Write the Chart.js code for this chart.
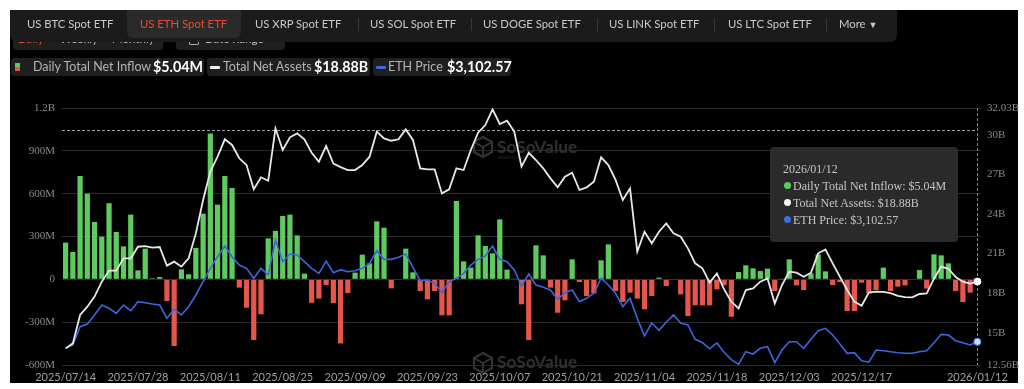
<!DOCTYPE html>
<html><head><meta charset="utf-8">
<script src="https://cdn.jsdelivr.net/npm/chart.js@4.4.1/dist/chart.umd.min.js"></script>
<style>
html,body{margin:0;padding:0;background:#fff;width:1024px;height:389px;overflow:hidden;font-family:Lato,"Noto Sans",sans-serif;}
.abs{position:absolute;white-space:nowrap;}
#panel{left:10px;top:10px;width:1008px;height:373px;background:#000;}
.btnbox{background:#1f1f1f;border-radius:4px;height:22px;top:28px;}
.btxt{top:28px;line-height:22px;font-size:11.5px;color:#bdbdbd;}
#tabbar{left:10px;top:10px;width:887px;height:32px;background:#1b1b1b;border-radius:0 0 7px 7px;}
#tabact{left:127px;top:10px;width:114px;height:28px;background:#2a2a2a;border-radius:0 0 6px 6px;}
.tab{top:10px;line-height:28px;font-size:11.3px;color:#c9c9c9;}
.sep{top:18px;width:1px;height:13px;background:#383838;}
.lgbox{top:58px;height:18px;background:#1f1f1f;border-radius:3px;}
.lgl{top:58px;line-height:18px;font-size:12.5px;color:#b4b4b4;}
.lgv{top:57px;line-height:20px;font-size:14.3px;color:#fff;font-weight:bold;}
.wm{font-size:17px;font-weight:bold;color:#303030;letter-spacing:0.2px;}
.wms{font-size:5px;color:#2a2a2a;}
#tip{left:770px;top:147px;width:188px;height:95px;background:rgba(44,44,44,0.96);border-radius:4px;font-family:"Liberation Serif",serif;font-size:12px;color:#c6c6c6;}
.tl{position:absolute;left:23px;line-height:14px;white-space:nowrap;}
.dot{position:absolute;left:14px;width:7px;height:7px;border-radius:50%;}
canvas{position:absolute;left:0;top:0;}
</style></head><body>
<div id="panel" class="abs"></div>

<!-- watermarks -->
<svg class="abs" style="left:472px;top:136px" width="22" height="22" viewBox="0 0 22 22"><polygon points="11,1 20,6 20,16 11,21 2,16 2,6" fill="none" stroke="#333" stroke-width="2.2"/><polyline points="2,6 11,11 20,6" fill="none" stroke="#333" stroke-width="2"/><line x1="11" y1="11" x2="11" y2="21" stroke="#333" stroke-width="2"/></svg>
<div class="abs wm" style="left:497px;top:136px;">SoSoValue</div>
<div class="abs wms" style="left:498px;top:154px;">sosovalue.com</div>
<svg class="abs" style="left:472px;top:352px" width="22" height="22" viewBox="0 0 22 22"><polygon points="11,1 20,6 20,16 11,21 2,16 2,6" fill="none" stroke="#333" stroke-width="2.2"/><polyline points="2,6 11,11 20,6" fill="none" stroke="#333" stroke-width="2"/><line x1="11" y1="11" x2="11" y2="21" stroke="#333" stroke-width="2"/></svg>
<div class="abs wm" style="left:497px;top:351px;">SoSoValue</div>

<canvas id="c" width="1024" height="389"></canvas>

<!-- half hidden second row -->
<div class="abs btnbox" style="left:13px;width:150px;"></div>
<div class="abs btxt" style="left:18px;color:#e8472f;">Daily</div>
<div class="abs btxt" style="left:60px;">Weekly</div>
<div class="abs btxt" style="left:112px;">Monthly</div>
<div class="abs btnbox" style="left:176px;width:109px;"></div>
<div class="abs" style="left:189px;top:34px;width:8px;height:9px;border:1px solid #aaa;border-radius:1px;"></div>
<div class="abs btxt" style="left:205px;">Date Range</div>

<!-- tab bar -->
<div id="tabbar" class="abs"></div>
<div id="tabact" class="abs"></div>
<div class="abs tab" style="left:27px;">US BTC Spot ETF</div>
<div class="abs tab" style="left:140px;color:#ea4a33;">US ETH Spot ETF</div>
<div class="abs tab" style="left:255px;">US XRP Spot ETF</div>
<div class="abs sep" style="left:358px;"></div>
<div class="abs tab" style="left:370px;">US SOL Spot ETF</div>
<div class="abs sep" style="left:471px;"></div>
<div class="abs tab" style="left:483px;">US DOGE Spot ETF</div>
<div class="abs sep" style="left:597px;"></div>
<div class="abs tab" style="left:609px;">US LINK Spot ETF</div>
<div class="abs sep" style="left:714px;"></div>
<div class="abs tab" style="left:728px;">US LTC Spot ETF</div>
<div class="abs sep" style="left:826px;"></div>
<div class="abs tab" style="left:839px;">More <span style="font-size:9px;">&#9660;</span></div>

<!-- legend -->
<div class="abs lgbox" style="left:11px;width:193px;"></div>
<div class="abs" style="left:15px;top:63px;width:5px;height:8px;background:linear-gradient(#5ec95f 50%,#e6574b 50%);"></div>
<div class="abs lgl" style="left:33px;">Daily Total Net Inflow</div>
<div class="abs lgv" style="left:153px;">$5.04M</div>
<div class="abs lgbox" style="left:207px;width:163px;"></div>
<div class="abs" style="left:210px;top:66px;width:10px;height:3px;background:#eee;border-radius:1px;"></div>
<div class="abs lgl" style="left:223px;">Total Net Assets</div>
<div class="abs lgv" style="left:314px;">$18.88B</div>
<div class="abs lgbox" style="left:373px;width:138px;"></div>
<div class="abs" style="left:376px;top:66px;width:10px;height:3px;background:#3f6be0;border-radius:1px;"></div>
<div class="abs lgl" style="left:388px;">ETH Price</div>
<div class="abs lgv" style="left:447px;">$3,102.57</div>

<!-- tooltip -->
<div id="tip" class="abs">
  <div class="tl" style="left:13px;top:15px;">2026/01/12</div>
  <div class="dot" style="top:35px;background:#5ec95f;"></div><div class="tl" style="top:32px;">Daily Total Net Inflow: $5.04M</div>
  <div class="dot" style="top:52px;background:#f2f2f2;"></div><div class="tl" style="top:49px;">Total Net Assets: $18.88B</div>
  <div class="dot" style="top:69px;background:#3f6be0;"></div><div class="tl" style="top:66px;">ETH Price: $3,102.57</div>
</div>

<script>
const dates = [
"2025/07/14","2025/07/15","2025/07/16","2025/07/17","2025/07/18","2025/07/21","2025/07/22","2025/07/23","2025/07/24","2025/07/25",
"2025/07/28","2025/07/29","2025/07/30","2025/07/31","2025/08/01","2025/08/04","2025/08/05","2025/08/06","2025/08/07","2025/08/08",
"2025/08/11","2025/08/12","2025/08/13","2025/08/14","2025/08/15","2025/08/18","2025/08/19","2025/08/20","2025/08/21","2025/08/22",
"2025/08/25","2025/08/26","2025/08/27","2025/08/28","2025/08/29","2025/09/02","2025/09/03","2025/09/04","2025/09/05","2025/09/08",
"2025/09/09","2025/09/10","2025/09/11","2025/09/12","2025/09/15","2025/09/16","2025/09/17","2025/09/18","2025/09/19","2025/09/22",
"2025/09/23","2025/09/24","2025/09/25","2025/09/26","2025/09/29","2025/09/30","2025/10/01","2025/10/02","2025/10/03","2025/10/06",
"2025/10/07","2025/10/08","2025/10/09","2025/10/10","2025/10/13","2025/10/14","2025/10/15","2025/10/16","2025/10/17","2025/10/20",
"2025/10/21","2025/10/22","2025/10/23","2025/10/24","2025/10/27","2025/10/28","2025/10/29","2025/10/30","2025/10/31","2025/11/03",
"2025/11/04","2025/11/05","2025/11/06","2025/11/07","2025/11/10","2025/11/11","2025/11/12","2025/11/13","2025/11/14","2025/11/17",
"2025/11/18","2025/11/19","2025/11/20","2025/11/21","2025/11/24","2025/11/25","2025/11/26","2025/11/28","2025/12/01","2025/12/02",
"2025/12/03","2025/12/04","2025/12/05","2025/12/08","2025/12/09","2025/12/10","2025/12/11","2025/12/12","2025/12/15","2025/12/16",
"2025/12/17","2025/12/18","2025/12/19","2025/12/22","2025/12/23","2025/12/24","2025/12/26","2025/12/29","2025/12/30","2025/12/31",
"2026/01/02","2026/01/05","2026/01/06","2026/01/07","2026/01/08","2026/01/09","2026/01/12"];

// Daily total net inflow, in millions of USD
const netInflowM = [
257,192,724,600,402,299,533,332,231,453,
63,215,7,16,-152,-467,70,35,220,460,
1021,523,724,640,-58,-199,-425,-245,287,339,
444,453,308,40,-164,-135,-40,-166,-449,-96,
47,173,112,406,362,-63,-3,215,49,-82,
-140,-82,-252,-252,549,126,82,308,234,182,
420,68,2,-175,-425,238,168,-58,-234,-147,
140,-19,-117,-98,133,245,-82,-158,-93,-135,
-210,-117,12,-47,-2,-105,-257,-182,-182,-182,
-70,-42,-262,51,98,77,58,75,-82,1,
140,-42,-75,42,175,56,-40,-19,-222,-222,
-23,-98,-75,82,-82,-51,-42,-3,65,-65,
175,168,112,-82,-159,-93,5.04];

// Total net assets, in billions of USD
const totalAssetsB = [
13.82,14.20,16.35,16.98,17.74,18.87,19.71,19.71,20.64,20.64,
21.52,21.57,21.45,21.50,20.09,20.39,20.01,20.64,22.53,25.06,
27.21,28.34,29.66,29.23,28.22,27.71,25.87,26.78,26.52,30.49,
28.85,29.81,30.11,29.66,28.64,27.96,29.15,27.82,27.55,27.33,
27.33,27.71,28.34,30.24,29.73,29.55,29.66,30.41,29.61,27.46,
27.38,27.38,25.56,25.87,27.46,27.33,28.85,30.16,30.74,31.93,
30.82,31.07,30.24,27.59,28.64,28.09,27.46,26.70,26.02,26.83,
27.13,25.82,26.02,26.45,28.29,27.71,26.58,25.06,25.94,21.15,
22.66,21.78,22.66,23.29,22.53,22.28,21.40,20.26,19.88,18.80,
19.50,18.29,17.36,16.85,18.24,18.37,18.87,19.12,17.23,18.62,
19.63,19.55,19.25,19.55,21.02,21.32,20.26,19.25,18.24,17.36,
17.05,18.04,18.12,18.10,18.00,17.80,17.70,17.69,17.94,17.99,
19.10,20.01,19.85,19.22,18.87,18.72,18.88];

// ETH price, USD
const ethPrice = [
2987,3046,3372,3420,3580,3758,3699,3610,3758,3657,
3817,3799,3776,3758,3521,3681,3580,3728,3936,4173,
4411,4618,4808,4618,4470,4411,4233,4411,4292,4915,
4529,4666,4648,4529,4411,4322,4541,4333,4387,4351,
4369,4411,4500,4725,4571,4571,4607,4666,4429,4191,
4203,4144,3977,4173,4233,4322,4470,4571,4630,4808,
4571,4529,4381,4096,4310,4114,4073,4025,3859,3977,
4025,3817,3877,3966,4233,4114,3966,3730,3880,3520,
3206,3437,3307,3452,3580,3437,3402,3147,3090,2978,
3082,2918,2785,2702,2927,2886,2987,3016,2731,2957,
3105,3105,2987,3147,3301,3343,3224,3064,2898,2909,
2767,2740,2957,2945,2927,2909,2898,2898,2927,2945,
3087,3236,3224,3123,3087,3046,3102.57];

const leftTicksM = [-600,-300,0,300,600,900,1200];
const rightTicksB = [12.56,15,18,21,24,27,30,32.03];
const refLineB = 30.4;       // dashed reference level (right axis)
const hoverIndex = dates.length - 1;
const labelEvery = 10;

const GREEN = '#5fca60', RED = '#e6574b', WHITE = '#e9e9e9', BLUE = '#3d66dc';

const fmtM = v => v === 0 ? '0' : (Math.abs(v) >= 1000 ? (v/1000) + 'B' : v + 'M');
const lastOnly = (r) => dates.map((d,i) => i === hoverIndex ? r : 0);
const showLabel = i => i === dates.length - 1 || (i % labelEvery === 0 && i <= dates.length - 1 - labelEvery);

const guides = {
  id: 'guides',
  beforeDatasetsDraw(chart) {
    const {ctx, chartArea: a, scales} = chart;
    ctx.save();
    ctx.lineWidth = 1;
    ctx.setLineDash([3, 2]);
    const y = Math.round(scales.yR.getPixelForValue(refLineB)) + 0.5;
    ctx.strokeStyle = '#a0a0a0';
    ctx.beginPath(); ctx.moveTo(a.left, y); ctx.lineTo(a.right - 5, y); ctx.stroke();
    const x = Math.round(scales.x.getPixelForValue(hoverIndex)) + 0.5;
    ctx.strokeStyle = '#8c8c8c';
    ctx.beginPath(); ctx.moveTo(x, a.top); ctx.lineTo(x, a.bottom); ctx.stroke();
    ctx.restore();
  }
};

new Chart(document.getElementById('c'), {
  type: 'bar',
  data: {
    labels: dates,
    datasets: [
      { type: 'line', label: 'Total Net Assets', data: totalAssetsB, yAxisID: 'yR', order: 1,
        borderColor: WHITE, borderWidth: 1.8, tension: 0, fill: false,
        pointRadius: lastOnly(3.5), pointBackgroundColor: '#ffffff', pointBorderColor: '#ffffff', pointBorderWidth: 1 },
      { type: 'line', label: 'ETH Price', data: ethPrice, yAxisID: 'yP', order: 2,
        borderColor: BLUE, borderWidth: 1.6, tension: 0, fill: false,
        pointRadius: lastOnly(3.5), pointBackgroundColor: '#cdd9ff', pointBorderColor: '#5a80ea', pointBorderWidth: 1 },
      { type: 'bar', label: 'Daily Total Net Inflow', data: netInflowM, yAxisID: 'yL', order: 3,
        backgroundColor: ctx => (ctx.raw >= 0 ? GREEN : RED),
        barPercentage: 0.72, categoryPercentage: 1.0, borderWidth: 0 }
    ]
  },
  options: {
    responsive: false, animation: false, devicePixelRatio: 1,
    layout: { padding: { top: 108, left: 0, right: 0, bottom: 0 } },
    plugins: { legend: { display: false }, tooltip: { enabled: false } },
    scales: {
      x: {
        type: 'category', offset: true,
        grid: { display: false, drawTicks: false }, border: { display: false },
        ticks: { autoSkip: false, maxRotation: 0, minRotation: 0, padding: 6, color: '#a0a0a0',
                 font: { family: 'Lato', size: 11 },
                 callback: (v, i) => showLabel(i) ? dates[i] : '' },
        afterFit(s) { s.height = 24; }
      },
      yL: {
        position: 'left', min: -600, max: 1200,
        afterBuildTicks(s) { s.ticks = leftTicksM.map(v => ({ value: v })); },
        grid: { color: '#2b2b2b', drawTicks: false, lineWidth: 1 }, border: { display: false },
        ticks: { padding: 7, color: '#8a8a8a', font: { family: 'Liberation Serif', size: 11 }, callback: fmtM },
        afterFit(s) { s.width = 62; }
      },
      yR: {
        position: 'right', min: 12.56, max: 32.03,
        afterBuildTicks(s) { s.ticks = rightTicksB.map(v => ({ value: v })); },
        grid: { display: false, drawTicks: false }, border: { display: false },
        ticks: { padding: 6, color: '#8a8a8a', font: { family: 'Liberation Serif', size: 11 }, callback: v => v + 'B' },
        afterFit(s) { s.width = 43; }
      },
      yP: { display: false, min: 2690, max: 7265 }
    }
  },
  plugins: [guides]
});
</script>
</body></html>
